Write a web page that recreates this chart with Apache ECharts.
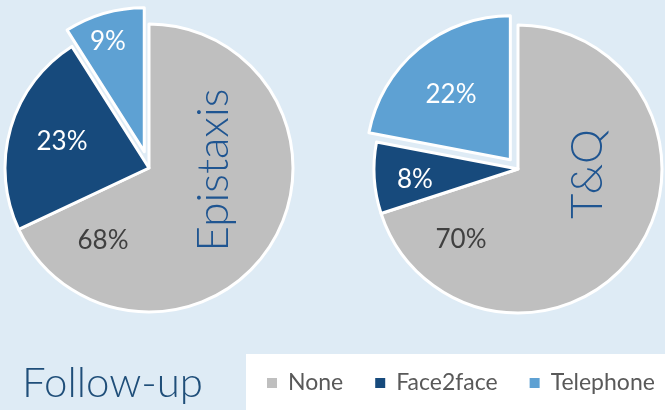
<!DOCTYPE html>
<html><head><meta charset="utf-8">
<script src="https://cdn.jsdelivr.net/npm/echarts@6/dist/echarts.min.js"></script>
<style>html,body{margin:0;padding:0;background:#deebf5;}#c{width:665px;height:410px;}</style>
</head><body><div id="c"></div>
<script>
const categories = ['None', 'Face2face', 'Telephone'];
const epistaxisValues = [68, 23, 9];
const tqValues = [70, 8, 22];
const pieNames = ['Epistaxis', 'T&Q'];
const legendTitle = 'Follow-up';

const colors = ['#bfbfbf', '#174a7c', '#5ea1d3'];
const labelColors = ['#404040', '#ffffff', '#ffffff'];
// label centre positions (layout only)
const labelPos = [
  [[103, 241], [62, 142], [108, 42]],
  [[461, 240], [415, 180], [451, 95]]
];
const FONT_LIGHT = '"Lato Light", Lato, "Open Sans", sans-serif';
const FONT = 'Lato, "Open Sans", sans-serif';
const RADIUS = 144;

function pieSeries(values, center, offset) {
  return {
    type: 'pie',
    center: center,
    radius: RADIUS,
    startAngle: 90,
    clockwise: true,
    selectedMode: 'multiple',
    selectedOffset: offset,
    animation: false,
    silent: true,
    z: 2,
    itemStyle: { borderColor: '#ffffff', borderWidth: 3 },
    label: { show: false },
    labelLine: { show: false },
    data: categories.map((c, i) => ({
      name: c,
      value: values[i],
      selected: c === 'Telephone',
      itemStyle: { color: colors[i] },
      select: { itemStyle: { color: colors[i], borderColor: '#ffffff', borderWidth: 3 } }
    }))
  };
}

function labelSeries(idx, values, center) {
  return {
    type: 'pie',
    center: center,
    radius: RADIUS,
    startAngle: 90,
    clockwise: true,
    selectedMode: false,
    animation: false,
    silent: true,
    legendHoverLink: false,
    z: 3,
    itemStyle: { color: 'rgba(0,0,0,0)', borderWidth: 0 },
    label: {
      show: true,
      position: 'inside',
      formatter: p => p.value + '%',
      fontFamily: FONT,
      fontSize: 26
    },
    labelLine: { show: false },
    labelLayout: function (params) {
      const pos = labelPos[idx][params.dataIndex];
      return { x: pos[0], y: pos[1], align: 'center', verticalAlign: 'middle' };
    },
    data: categories.map((c, i) => ({
      name: c,
      value: values[i],
      itemStyle: { color: 'rgba(0,0,0,0)' },
      label: { color: labelColors[i] }
    }))
  };
}

const chart = echarts.init(document.getElementById('c'));
chart.setOption({
  backgroundColor: '#deebf5',
  color: colors,
  legend: {
    data: categories,
    left: 246,
    top: 354,
    width: 440,
    backgroundColor: '#ffffff',
    padding: [17, 40, 40, 19],
    itemWidth: 12,
    itemHeight: 12,
    itemGap: 30,
    icon: 'rect',
    selectedMode: false,
    textStyle: { fontFamily: FONT, fontSize: 23, color: '#595959', padding: [0, 0, 0, 5], lineHeight: 24 }
  },
  graphic: [
    { type: 'text', x: 214, y: 170, rotation: Math.PI / 2, z: 100,
      style: { text: pieNames[0], font: '300 44px ' + FONT_LIGHT, fill: '#1f5591', textAlign: 'center', textVerticalAlign: 'middle' } },
    { type: 'text', x: 588, y: 174, rotation: Math.PI / 2, z: 100,
      style: { text: pieNames[1], font: '300 44px ' + FONT_LIGHT, fill: '#1f5591', textAlign: 'center', textVerticalAlign: 'middle' } },
    { type: 'text', left: 22, top: 362, z: 100,
      style: { text: legendTitle, font: '300 42px ' + FONT_LIGHT, fill: '#1f4e79' } }
  ],
  series: [
    pieSeries(epistaxisValues, [149, 168], 17),
    pieSeries(tqValues, [518, 169], 12),
    labelSeries(0, epistaxisValues, [149, 168]),
    labelSeries(1, tqValues, [518, 169])
  ]
});
</script></body></html>
